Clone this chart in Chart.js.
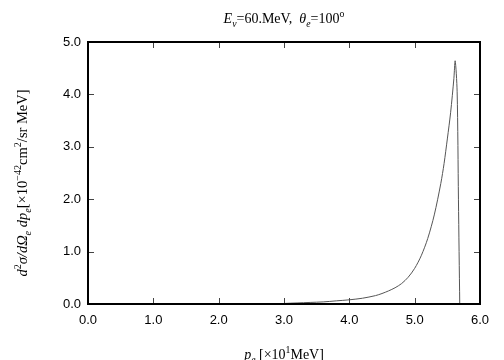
<!DOCTYPE html>
<html>
<head>
<meta charset="utf-8">
<script src="https://cdn.jsdelivr.net/npm/chart.js@4"></script>
<style>
  html, body { margin: 0; padding: 0; background: #fff; }
  #wrap { width: 504px; height: 360px; }
</style>
</head>
<body>
<div id="wrap"><canvas id="spectrum" width="504" height="360"></canvas></div>
<script>
// --- data ---
const momentum = [2.95, 3.0, 3.2, 3.4, 3.6, 3.8, 4.0, 4.2, 4.4, 4.5, 4.6, 4.7, 4.8, 4.9,
                  5.0, 5.1, 5.2, 5.3, 5.4, 5.45, 5.5, 5.55, 5.6, 5.62, 5.65, 5.67, 5.69];
const crossSection = [0.0, 0.01, 0.02, 0.03, 0.04, 0.06, 0.08, 0.11, 0.16, 0.20, 0.25, 0.31, 0.39, 0.51,
                      0.68, 0.92, 1.25, 1.70, 2.30, 2.68, 3.15, 3.65, 4.30, 4.64, 4.05, 2.0, 0.0];
const xTicks = [0, 1, 2, 3, 4, 5, 6];
const yTicks = [0, 1, 2, 3, 4, 5];

const serif = '"Liberation Serif", "DejaVu Serif", serif';
const sans = '"Liberation Sans", Arial, sans-serif';

// draw a run of text pieces; each piece may be italic / sub / sup
function drawRich(ctx, parts, x, y, size, align) {
  const widths = parts.map(p => {
    ctx.font = (p.it ? 'italic ' : '') + (p.sub || p.sup ? size * 0.7 : size) + 'px ' + serif;
    return ctx.measureText(p.t).width;
  });
  const total = widths.reduce((a, b) => a + b, 0);
  let cx = align === 'center' ? x - total / 2 : x;
  parts.forEach((p, i) => {
    ctx.font = (p.it ? 'italic ' : '') + (p.sub || p.sup ? size * 0.7 : size) + 'px ' + serif;
    const dy = p.sub ? size * 0.3 : p.sup ? -size * 0.4 : 0;
    ctx.fillText(p.t, cx, y + dy);
    cx += widths[i];
  });
}

const framePlugin = {
  id: 'frame',
  afterDraw(chart) {
    const { ctx, chartArea: a, scales } = chart;
    ctx.save();
    // inward ticks on all four sides
    ctx.strokeStyle = '#444';
    ctx.lineWidth = 1;
    ctx.beginPath();
    xTicks.slice(1, -1).forEach(v => {
      const px = Math.round(scales.x.getPixelForValue(v)) + 0.5;
      ctx.moveTo(px, a.bottom); ctx.lineTo(px, a.bottom - 6);
      ctx.moveTo(px, a.top); ctx.lineTo(px, a.top + 6);
    });
    yTicks.slice(1, -1).forEach(v => {
      const py = Math.round(scales.y.getPixelForValue(v)) + 0.5;
      ctx.moveTo(a.left, py); ctx.lineTo(a.left + 6, py);
      ctx.moveTo(a.right, py); ctx.lineTo(a.right - 6, py);
    });
    ctx.stroke();
    // box
    ctx.strokeStyle = '#000';
    ctx.lineWidth = 2;
    ctx.strokeRect(a.left, a.top, a.right - a.left, a.bottom - a.top);

    // titles
    ctx.fillStyle = '#000';
    ctx.textBaseline = 'alphabetic';
    const midX = (a.left + a.right) / 2;
    drawRich(ctx, [
      { t: 'E', it: true }, { t: 'ν', it: true, sub: true }, { t: '=60.MeV,  ' },
      { t: 'θ', it: true }, { t: 'e', it: true, sub: true }, { t: '=100' }, { t: 'o', sup: true }
    ], midX, 23, 14, 'center');

    drawRich(ctx, [
      { t: 'p', it: true }, { t: 'e', it: true, sub: true }, { t: ' [×10' }, { t: '1', sup: true }, { t: 'MeV]' }
    ], midX, 359, 14, 'center');

    ctx.translate(27, (a.top + a.bottom) / 2 + 10);
    ctx.rotate(-Math.PI / 2);
    drawRich(ctx, [
      { t: 'd' , it: true }, { t: '2', sup: true }, { t: 'σ/d', it: true }, { t: 'Ω', it: true },
      { t: 'e', it: true, sub: true }, { t: ' dp', it: true }, { t: 'e', it: true, sub: true },
      { t: '[×10' }, { t: '−42', sup: true }, { t: 'cm' }, { t: '2', sup: true }, { t: '/sr MeV]' }
    ], 0, 0, 14.5, 'center');
    ctx.restore();
  }
};

new Chart(document.getElementById('spectrum'), {
  type: 'line',
  data: {
    datasets: [{
      data: momentum.map((x, i) => ({ x: x, y: crossSection[i] })),
      borderColor: '#555',
      borderWidth: 1,
      pointRadius: 0,
      tension: 0.3,
      fill: false
    }]
  },
  options: {
    responsive: false,
    animation: false,
    layout: { padding: { top: 42, right: 24, left: 0, bottom: 0 } },
    plugins: { legend: { display: false }, tooltip: { enabled: false } },
    scales: {
      x: {
        type: 'linear', min: 0, max: 6,
        border: { display: false },
        grid: { display: false, drawTicks: false },
        ticks: {
          stepSize: 1, padding: 9, color: '#000',
          font: { family: sans, size: 13 },
          callback: v => v.toFixed(1)
        },
        afterFit: s => { s.height = 56; }
      },
      y: {
        min: 0, max: 5,
        border: { display: false },
        grid: { display: false, drawTicks: false },
        ticks: {
          stepSize: 1, padding: 7, color: '#000',
          font: { family: sans, size: 13 },
          callback: v => v.toFixed(1)
        },
        afterFit: s => { s.width = 88; }
      }
    }
  },
  plugins: [framePlugin]
});
</script>
</body>
</html>
